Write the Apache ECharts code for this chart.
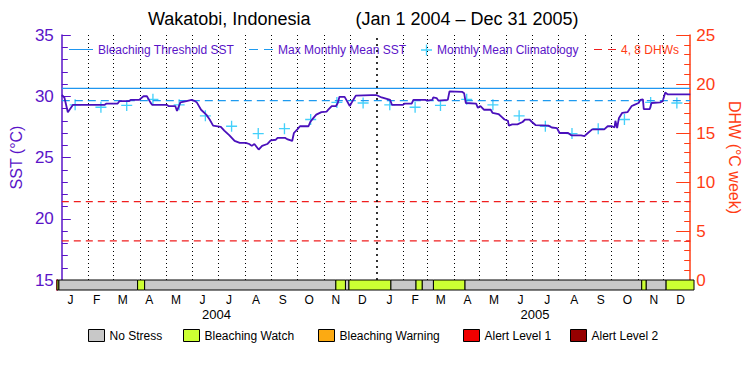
<!DOCTYPE html>
<html>
<head>
<meta charset="utf-8">
<script src="https://cdn.jsdelivr.net/npm/echarts@6/dist/echarts.min.js"></script>
<style>html,body{margin:0;padding:0;background:#fff}#chart{width:750px;height:375px}</style>
</head>
<body>
<div id="chart"></div>
<script>
// data (days counted from Jan 1 2004)
const monthLetters = ["J", "F", "M", "A", "M", "J", "J", "A", "S", "O", "N", "D"];
const yearLabels = ["2004", "2005"];

const sstDays = [0, 3, 7, 10, 13, 30, 50, 52, 65, 67, 78, 80, 90, 95, 99, 103, 105, 122, 124, 132,
  134, 138, 145, 151, 155, 157, 162, 168, 172, 176, 185, 189, 195, 201, 207, 214, 218, 221, 224, 229,
  233, 239, 243, 249, 251, 260, 262, 268, 270, 274, 277, 287, 289, 293, 296, 302, 308, 310, 314, 319,
  321, 323, 329, 331, 335, 339, 342, 360,
  366, 372, 382, 384, 397, 399, 407, 409, 423, 425, 431, 432, 436, 438, 449, 451, 466, 468, 470, 482,
  484, 487, 491, 499, 501, 508, 512, 515, 519, 520, 524, 530, 536, 539, 544, 547, 551, 566, 570, 576,
  579, 589, 593, 604, 608, 612, 617, 631, 635, 640, 643, 644, 646, 648, 652, 658, 660, 663, 666, 671,
  673, 676, 677, 684, 686, 696, 699, 702, 705, 731];
const sstValues = [30.1, 29.9, 28.7, 29.0, 29.3, 29.3, 29.3, 29.4, 29.4, 29.6, 29.6, 29.7, 29.7, 30.0, 30.0, 29.5, 29.3, 29.3, 29.2, 29.2,
  28.8, 29.5, 29.6, 29.7, 29.6, 29.5, 28.9, 28.5, 28.1, 27.6, 27.5, 27.2, 26.8, 26.35, 26.2, 26.2, 26.1, 25.95, 26.1, 25.65,
  25.95, 26.1, 26.4, 26.45, 26.6, 26.6, 26.5, 26.35, 27.0, 27.3, 27.55, 27.55, 27.9, 28.25, 28.5, 28.7, 28.75, 28.9, 29.2, 29.2,
  29.45, 29.95, 29.95, 29.7, 29.2, 29.7, 30.05, 30.1,
  30.1, 29.9, 29.7, 29.3, 29.3, 29.4, 29.4, 29.7, 29.7, 29.65, 29.7, 29.9, 29.85, 29.65, 29.7, 30.4, 30.35, 30.25, 29.45, 29.4,
  29.05, 29.2, 28.9, 28.9, 28.65, 28.55, 28.3, 28.1, 28.0, 27.6, 27.7, 27.7, 27.9, 28.1, 28.1, 27.9, 27.65, 27.6, 27.45, 27.4,
  27.0, 27.0, 26.8, 26.8, 26.75, 27.0, 27.3, 27.3, 27.55, 27.55, 27.45, 28.0, 27.4, 28.2, 28.65, 28.7, 28.9, 29.2, 29.3, 29.45,
  29.7, 29.75, 28.95, 28.95, 29.45, 29.5, 29.6, 30.3, 30.15, 30.15];

// monthly mean climatology, Jan..Dec (same for both years)
const climValues = [29.3, 29.1, 29.25, 29.75, 29.3, 28.4, 27.55, 26.95, 27.35, 28.1, 29.5, 29.45];

const maxMonthlyMean = 29.65;
const bleachingThreshold = 30.65;
const dhwLevels = [4, 8];

const stressNames = ["No Stress", "Bleaching Watch", "Bleaching Warning", "Alert Level 1", "Alert Level 2"];
const stressColors = ["#c8c8c8", "#ccff33", "#fcaa12", "#f00000", "#960000"];
const stressStart = [0, 2, 92.5, 100.5, 320, 331, 335, 383, 412, 419, 432, 468, 671, 676, 699];
const stressEnd   = [2, 92.5, 100.5, 320, 331, 335, 383, 412, 419, 432, 468, 671, 676, 699, 731];
const stressLevel = [1, 0, 1, 0, 1, 0, 1, 0, 1, 0, 1, 0, 1, 0, 1];

const t0 = Date.UTC(2004, 0, 1);
const toDay = (y, m, d) => (Date.UTC(y, m, d) - t0) / 864e5;
const monthStarts = [];
for (let i = 0; i <= 24; i++) monthStarts.push(toDay(2004, i, 1));
const monthMids = monthStarts.slice(0, 24).map((s, i) => (s + monthStarts[i + 1]) / 2);
const yearMids = [(monthStarts[0] + monthStarts[12]) / 2, (monthStarts[12] + monthStarts[24]) / 2];
const totalDays = monthStarts[24];

const purple = "#5a14c8";
const orange = "#ff3c14";
const font = "Liberation Sans";
const plusPath = "path://M4.4,0h1.2v4.4h4.4v1.2h-4.4v4.4h-1.2v-4.4h-4.4v-1.2h4.4z";
// legend line icons, padded to a 12px tall box so the stroke sits mid-height
const pad = "M0,-5.5L0,-5.5ZM0,6.5L0,6.5Z";
const solidIcon = "path://" + pad + "M0,-0.6H24V0.6H0Z";
const blueDashIcon = "path://" + pad + "M0,-0.6H9V0.6H0ZM15,-0.6H24V0.6H15Z";
const redDashIcon = "path://" + pad + "M0,-0.6H8V0.6H0ZM14,-0.6H22V0.6H14Z";

const monthLines = monthStarts.slice(1, 24).map(d => ({
  xAxis: d,
  lineStyle: d === monthStarts[12]
    ? { color: "#000", width: 1.6, type: [2, 4] }
    : { color: "#000", width: 1, type: [1, 3] }
}));

const topLegend = (name, left, w, icon, color) => ({
  data: [{ name: name, icon: icon, textStyle: { color: color } }],
  left: left, top: 44, padding: 0, itemWidth: w, itemHeight: 12, itemGap: 0,
  textStyle: { fontFamily: font, fontSize: 12 },
  selectedMode: false
});
const stressLegend = (i, left) => ({
  data: [stressNames[i]],
  left: left, top: 329, padding: 0, itemWidth: 16, itemHeight: 12,
  icon: "rect",
  itemStyle: { borderColor: "#000", borderWidth: 1 },
  textStyle: { fontFamily: font, fontSize: 12, color: "#000" },
  selectedMode: false
});

const chart = echarts.init(document.getElementById("chart"), null, { renderer: "svg" });
chart.setOption({
  animation: false,
  backgroundColor: "#fff",
  title: {
    text: "Wakatobi, Indonesia         (Jan 1 2004 \u2013 Dec 31 2005)",
    left: 148, top: 10, padding: 0,
    textStyle: { fontFamily: font, fontSize: 18, fontWeight: "normal", color: "#000" }
  },
  legend: [
    topLegend("Bleaching Threshold SST", 69, 24, solidIcon, purple),
    topLegend("Max Monthly Mean SST", 249, 24, blueDashIcon, purple),
    topLegend("Monthly Mean Climatology", 421, 11, plusPath, purple),
    topLegend("4, 8 DHWs", 594, 22, redDashIcon, orange),
    stressLegend(0, 88),
    stressLegend(1, 183),
    stressLegend(2, 318),
    stressLegend(3, 463),
    stressLegend(4, 570)
  ],
  grid: [
    { left: 57, right: 56, top: 35, bottom: 95 },
    { left: 57, right: 56, top: 280, height: 10 }
  ],
  xAxis: [
    {
      gridIndex: 0, type: "value", min: 0, max: totalDays, position: "top",
      axisLine: { lineStyle: { color: "#000", width: 1.2 } },
      axisTick: { show: false }, axisLabel: { show: false }, splitLine: { show: false }
    },
    {
      gridIndex: 1, type: "value", min: 0, max: totalDays, position: "bottom",
      axisLine: { show: false }, axisTick: { show: false }, splitLine: { show: false },
      axisLabel: {
        customValues: monthMids, margin: 4, color: "#000", fontFamily: font, fontSize: 12,
        formatter: v => monthLetters[monthMids.findIndex(m => Math.abs(m - v) < 0.01) % 12]
      }
    },
    {
      gridIndex: 1, type: "value", min: 0, max: totalDays, position: "bottom", offset: 14,
      axisLine: { show: false }, axisTick: { show: false }, splitLine: { show: false },
      axisLabel: {
        customValues: yearMids, margin: 4, color: "#000", fontFamily: font, fontSize: 13,
        formatter: v => yearLabels[yearMids.findIndex(m => Math.abs(m - v) < 0.01)]
      }
    }
  ],
  yAxis: [
    {
      gridIndex: 0, type: "value", min: 15, max: 35, interval: 5, position: "left",
      name: "SST (\u00b0C)", nameLocation: "middle", nameGap: 31, nameRotate: 90,
      nameTextStyle: { color: purple, fontFamily: font, fontSize: 16 },
      axisLine: { show: true, lineStyle: { color: purple, width: 1.5 } },
      axisTick: { inside: true, length: 9, lineStyle: { color: purple } },
      minorTick: { show: true, splitNumber: 5, length: 6, lineStyle: { color: purple } },
      axisLabel: { color: purple, fontFamily: font, fontSize: 17, margin: 8 },
      splitLine: { show: false }
    },
    {
      gridIndex: 0, type: "value", min: 0, max: 25, interval: 5, position: "right",
      name: "DHW (\u00b0C week)", nameLocation: "middle", nameGap: 30, nameRotate: -90,
      nameTextStyle: { color: orange, fontFamily: font, fontSize: 16 },
      axisLine: { show: true, lineStyle: { color: orange, width: 1.5 } },
      axisTick: { inside: true, length: 14, lineStyle: { color: orange } },
      minorTick: { show: true, splitNumber: 5, length: 6, lineStyle: { color: orange } },
      axisLabel: { color: orange, fontFamily: font, fontSize: 17, margin: 6 },
      splitLine: { show: false }
    },
    {
      gridIndex: 1, type: "value", min: 0, max: 1, position: "left",
      axisLine: { show: true, lineStyle: { color: purple, width: 1.5 } },
      axisTick: { show: false }, axisLabel: { show: false }, splitLine: { show: false }
    },
    {
      gridIndex: 1, type: "value", min: 0, max: 1, position: "right",
      axisLine: { show: true, lineStyle: { color: orange, width: 1.5 } },
      axisTick: { show: false }, axisLabel: { show: false }, splitLine: { show: false }
    }
  ],
  series: [
    {
      name: "Bleaching Threshold SST", type: "line", xAxisIndex: 0, yAxisIndex: 0,
      data: [[0, bleachingThreshold], [totalDays, bleachingThreshold]],
      symbol: "none", lineStyle: { color: "#1e96f0", width: 1.2 }, itemStyle: { color: "#1e96f0" },
      markLine: { silent: true, symbol: "none", label: { show: false }, data: monthLines }
    },
    {
      name: "Max Monthly Mean SST", type: "line", xAxisIndex: 0, yAxisIndex: 0,
      data: [[0, maxMonthlyMean], [totalDays, maxMonthlyMean]],
      symbol: "none", lineStyle: { color: "#1e9bf0", width: 1.2, type: [8, 5] }, itemStyle: { color: "#1e9bf0" }
    },
    ...dhwLevels.map(v => ({
      name: "4, 8 DHWs", type: "line", xAxisIndex: 0, yAxisIndex: 1,
      data: [[0, v], [totalDays, v]],
      symbol: "none", lineStyle: { color: "#f01e1e", width: 1.2, type: [7, 5] }, itemStyle: { color: "#f01e1e" }
    })),
    {
      name: "Monthly Mean Climatology", type: "scatter", xAxisIndex: 0, yAxisIndex: 0,
      data: monthMids.map((d, i) => [d, climValues[i % 12]]),
      symbol: plusPath, symbolSize: 11, itemStyle: { color: "#14c4fa" }
    },
    {
      name: "SST", type: "line", xAxisIndex: 0, yAxisIndex: 0,
      data: sstDays.map((d, i) => [d, sstValues[i]]),
      symbol: "none", lineStyle: { color: "#4a10bc", width: 1.8 }, z: 5
    },
    ...stressNames.map((name, k) => ({
      name: name, type: "custom", xAxisIndex: 1, yAxisIndex: 2,
      itemStyle: { color: stressColors[k], borderColor: "#000", borderWidth: 1 },
      encode: { x: [0, 1], y: 2 },
      data: stressStart.map((s, i) => [s, stressEnd[i], stressLevel[i]]).filter(d => d[2] === k),
      renderItem: (params, api) => {
        const p0 = api.coord([api.value(0), 1]);
        const p1 = api.coord([api.value(1), 0]);
        return {
          type: "rect",
          shape: { x: p0[0], y: p0[1], width: p1[0] - p0[0], height: p1[1] - p0[1] },
          style: { fill: stressColors[k], stroke: "#000", lineWidth: 1 }
        };
      }
    }))
  ]
});
</script>
</body>
</html>
